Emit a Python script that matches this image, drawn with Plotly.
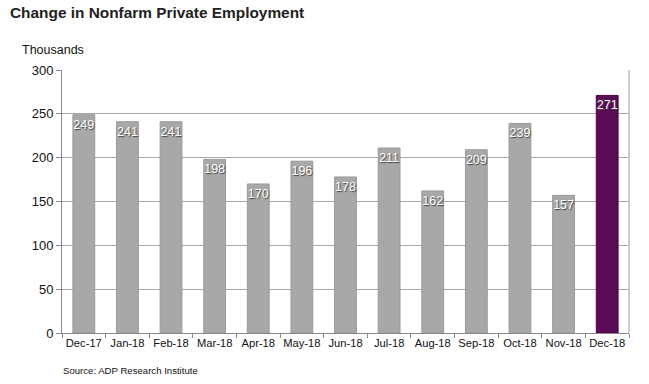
import plotly.graph_objects as go

months = ["Dec-17", "Jan-18", "Feb-18", "Mar-18", "Apr-18", "May-18", "Jun-18",
          "Jul-18", "Aug-18", "Sep-18", "Oct-18", "Nov-18", "Dec-18"]
values = [249, 241, 241, 198, 170, 196, 178, 211, 162, 209, 239, 157, 271]
y_ticks = [0, 50, 100, 150, 200, 250, 300]

colors = ["#A8A8A8"] * (len(months) - 1) + ["#5B0A55"]
line_colors = ["#9A9A9A"] * (len(months) - 1) + ["#4A0645"]

FONT = "Liberation Sans, Arial, sans-serif"
PW, PH = 567, 263
L, T = 62, 70

fig = go.Figure(go.Bar(
    x=months, y=values,
    marker=dict(color=colors, line=dict(color=line_colors, width=1)),
    text=[str(v) for v in values],
    textposition="inside", insidetextanchor="end",
    textfont=dict(color="white", size=12.5, family=FONT, shadow="1px 1px 1px #444444"),
    textangle=0,
    cliponaxis=False,
    hoverinfo="skip",
))

fig.update_layout(
    width=649, height=384,
    margin=dict(l=L, r=649 - L - PW, t=T, b=384 - T - PH, autoexpand=False),
    paper_bgcolor="white", plot_bgcolor="white",
    bargap=0.5,
    showlegend=False,
    font=dict(family=FONT, size=12, color="#111111"),
    uniformtext=dict(mode="show", minsize=12),
)
fig.update_xaxes(
    automargin=False, tickangle=0,
    showline=True, linecolor="#888888", linewidth=1,
    ticks="outside", ticklen=4, tickcolor="#888888",
    tickson="boundaries", showgrid=False,
    mirror=False, tickfont=dict(size=11.2, color="#111111"),
)
fig.update_yaxes(
    automargin=False,
    range=[0, 300], tickvals=y_ticks,
    showline=True, linecolor="#888888", linewidth=1,
    ticks="outside", ticklen=5, tickcolor="#888888",
    showgrid=True, gridcolor="#A8A8A8", gridwidth=1,
    tickfont=dict(size=13, color="#111111"), zeroline=False,
)
# right border line
fig.add_shape(type="line", xref="paper", yref="paper", x0=1, x1=1, y0=0, y1=1,
              line=dict(color="#BBBBBB", width=1.5))

fig.add_annotation(text="<b>Change in Nonfarm Private Employment</b>", xref="paper", yref="paper",
                   x=-54/PW, y=1 + 58/PH, xanchor="left", yanchor="middle", showarrow=False,
                   font=dict(size=15.4, color="#222222"))
fig.add_annotation(text="Thousands", xref="paper", yref="paper",
                   x=-42/PW, y=1 + 20/PH, xanchor="left", yanchor="middle", showarrow=False,
                   font=dict(size=12.5, color="#111111"))
fig.add_annotation(text="Source: ADP Research Institute", xref="paper", yref="paper",
                   x=-1/PW, y=-37/PH, xanchor="left", yanchor="middle", showarrow=False,
                   font=dict(size=9.6, color="#111111"))

fig.write_html("out.html", config={"displayModeBar": False},
               post_script="document.body.style.margin='0';")
